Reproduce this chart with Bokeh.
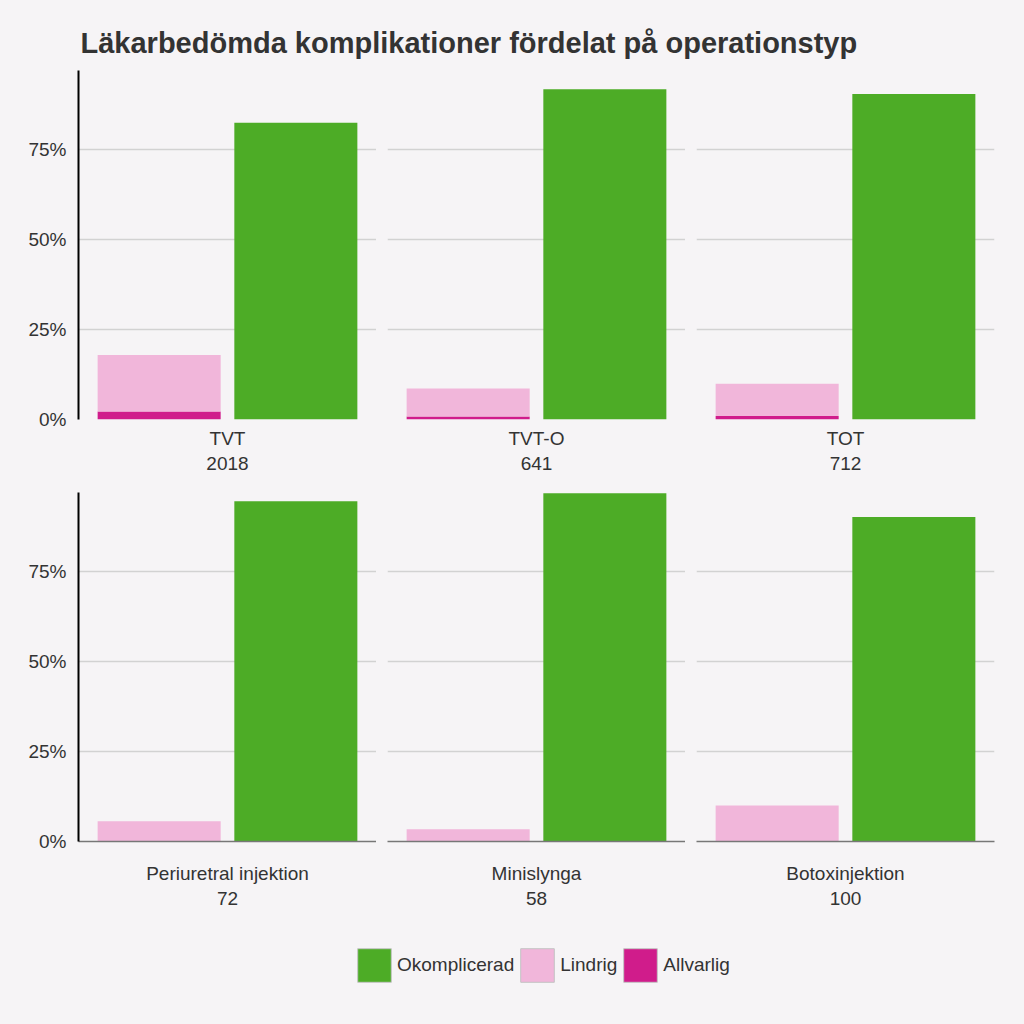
from bokeh.plotting import figure
from bokeh.models import (Range1d, FixedTicker, NumeralTickFormatter,
                          Label, Legend, LegendItem, GlobalInlineStyleSheet)
from bokeh.layouts import column, row
from bokeh.embed import file_html
from bokeh.resources import INLINE

# ---------------- data ----------------
title_text = "Läkarbedömda komplikationer fördelat på operationstyp"
operations = ["TVT", "TVT-O", "TOT", "Periuretral injektion", "Minislynga", "Botoxinjektion"]
n_patients = [2018, 641, 712, 72, 58, 100]
okomplicerad = [82.3, 91.6, 90.3, 94.4, 96.6, 90.0]   # percent
lindrig = [15.7, 7.8, 8.9, 5.6, 3.4, 10.0]            # percent
allvarlig = [2.2, 0.8, 1.0, 0.0, 0.0, 0.0]            # percent
series = ["Okomplicerad", "Lindrig", "Allvarlig"]
bar_groups = ["Komplikation", "Okomplicerad"]
y_ticks = [0, 0.25, 0.5, 0.75]

# ---------------- style ----------------
colors = {"Okomplicerad": "#4dac26", "Lindrig": "#f1b6da", "Allvarlig": "#d01c8b"}
BG = "#f6f4f6"
FONT = "Liberation Sans"
TXT = "#333333"
GRID = "#d2d2d2"
FW, FH = 298, 349
YMAX = 0.968
PAD = 0.09
BAR_W = 0.9
group_pos = [k + 0.5 for k in range(len(bar_groups))]


def style_common(p):
    p.background_fill_color = BG
    p.border_fill_color = BG
    p.outline_line_color = None


def make_panel(i, col, rw):
    mbl = 78 if col == 0 else 11
    mbr = 22 if col == 2 else 0
    mbb = 73 if rw == 0 else 84
    p = figure(frame_width=FW, frame_height=FH,
               x_range=Range1d(-PAD, len(bar_groups) + PAD),
               y_range=Range1d(0, YMAX),
               output_backend="svg", toolbar_location=None,
               min_border_left=mbl, min_border_right=mbr,
               min_border_top=0, min_border_bottom=mbb)
    style_common(p)

    a = allvarlig[i] / 100
    l = lindrig[i] / 100
    o = okomplicerad[i] / 100
    if a > 0:
        p.vbar(x=[group_pos[0]], bottom=[0], top=[a], width=BAR_W,
               fill_color=colors["Allvarlig"], line_color=None)
    p.vbar(x=[group_pos[0]], bottom=[a], top=[a + l], width=BAR_W,
           fill_color=colors["Lindrig"], line_color=None)
    p.vbar(x=[group_pos[1]], bottom=[0], top=[o], width=BAR_W,
           fill_color=colors["Okomplicerad"], line_color=None)

    p.xgrid.visible = False
    p.ygrid.ticker = FixedTicker(ticks=y_ticks)
    p.ygrid.grid_line_color = GRID
    p.ygrid.grid_line_width = 1.5

    yax = p.yaxis[0]
    if col == 0:
        yax.ticker = FixedTicker(ticks=y_ticks)
        yax.formatter = NumeralTickFormatter(format="0%")
        yax.axis_line_color = "black"
        yax.axis_line_width = 2
        yax.major_tick_line_color = None
        yax.minor_tick_line_color = None
        yax.major_label_standoff = 6
        yax.major_label_text_font = FONT
        yax.major_label_text_font_size = "19px"
        yax.major_label_text_color = TXT
    else:
        yax.visible = False

    xax = p.xaxis[0]
    xax.ticker = FixedTicker(ticks=[])
    xax.major_tick_line_color = None
    xax.minor_tick_line_color = None
    xax.major_tick_out = 0
    xax.major_label_standoff = 0
    xax.axis_label = f"{operations[i]}\n{n_patients[i]}"
    xax.axis_label_text_font = FONT
    xax.axis_label_text_font_size = "19px"
    xax.axis_label_text_font_style = "normal"
    xax.axis_label_text_color = TXT
    if rw == 0:
        xax.axis_line_color = None
        xax.axis_label_standoff = 8
    else:
        xax.axis_line_color = "#777777"
        xax.axis_line_width = 1.5
        xax.axis_label_standoff = 21
    return p


panels = [make_panel(i, i % 3, i // 3) for i in range(len(operations))]

TOTAL_W = 1020

# ---------------- title ----------------
tf = figure(frame_width=TOTAL_W, frame_height=70, x_range=Range1d(0, TOTAL_W),
            y_range=Range1d(0, 70), output_backend="svg", toolbar_location=None,
            min_border=0, x_axis_type=None, y_axis_type=None)
style_common(tf)
tf.xgrid.visible = False
tf.ygrid.visible = False
tf.add_layout(Label(x=80, y=28, text=title_text, text_font=FONT,
                    text_font_size="29px", text_font_style="bold",
                    text_color=TXT, text_baseline="alphabetic"))

# ---------------- legend ----------------
lf = figure(frame_width=TOTAL_W, frame_height=95, x_range=Range1d(0, 1),
            y_range=Range1d(0, 1), output_backend="svg", toolbar_location=None,
            min_border=0, x_axis_type=None, y_axis_type=None)
style_common(lf)
lf.xgrid.visible = False
lf.ygrid.visible = False
items = []
for s in series:
    # data placed outside the visible range: only the legend swatch shows
    r = lf.vbar(x=[-10], bottom=[-10], top=[-9], width=0.5,
                fill_color=colors[s], line_color="#c4c4c4")
    items.append(LegendItem(label=s, renderers=[r]))
legend = Legend(items=items, orientation="horizontal", location=(353, 34),
                glyph_width=42, glyph_height=42, label_standoff=2, spacing=2,
                padding=0, margin=0, border_line_color=None,
                background_fill_alpha=0, label_text_font=FONT,
                label_text_font_size="19px", label_text_color=TXT)
lf.add_layout(legend, "center")

layout = column(tf, row(*panels[:3]), row(*panels[3:]), lf)
layout.styles = {"background-color": BG}
layout.stylesheets = [GlobalInlineStyleSheet(css=f"html, body {{ background-color: {BG}; margin: 0; }}")]

open("out.html", "w").write(file_html(layout, INLINE))
